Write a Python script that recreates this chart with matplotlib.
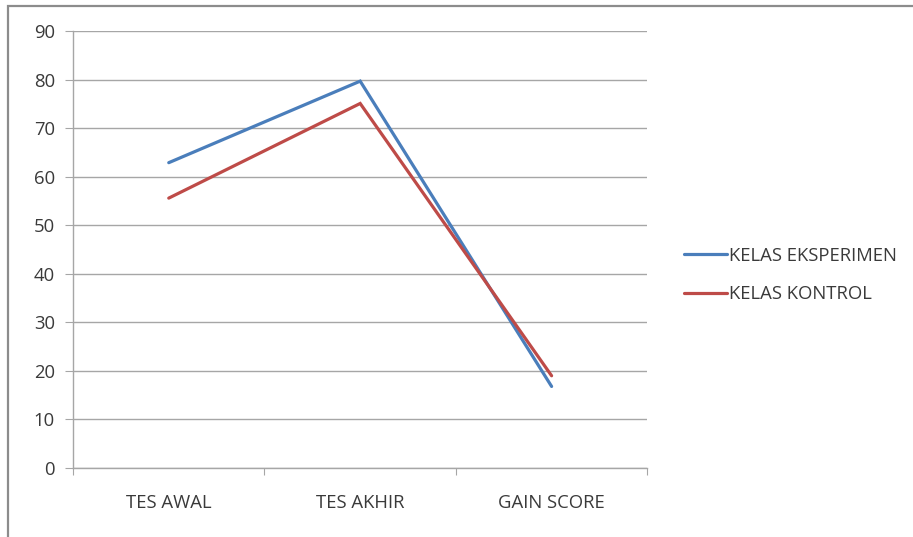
"""
Line chart: Tes Awal / Tes Akhir / Gain Score for two classes.
"""

import matplotlib.pyplot as plt
from matplotlib.patches import Rectangle

plt.rcParams["font.family"] = ["Open Sans", "DejaVu Sans"]

categories = ["TES AWAL", "TES AKHIR", "GAIN SCORE"]
eksperimen = [62.9, 79.7, 16.8]
kontrol = [55.6, 75.1, 19.0]
y_ticks = [0, 10, 20, 30, 40, 50, 60, 70, 80, 90]

GRID = "#a6a6a6"
TEXT = "#3a3a3a"
FS = 13.3

fig = plt.figure(figsize=(9.13, 5.37), dpi=100)
ax = fig.add_axes([0.080, 0.1285, 0.629, 0.8135])

# chart outer border (only left and top visible in the crop)
fig.patches.append(Rectangle((8 / 913, -0.2), 1.2, 1.2 - 6 / 537,
                             transform=fig.transFigure, fill=False,
                             edgecolor="#8c8c8c", linewidth=1.6))

x = range(len(categories))
ax.plot(x, eksperimen, color="#4a7ebb", linewidth=2.3, label="KELAS EKSPERIMEN",
        solid_capstyle="round", solid_joinstyle="miter", zorder=3)
ax.plot(x, kontrol, color="#be4b48", linewidth=2.3, label="KELAS KONTROL",
        solid_capstyle="round", solid_joinstyle="miter", zorder=3)

ax.set_xlim(-0.5, len(categories) - 0.5)
ax.set_ylim(0, 90)

ax.set_yticks(y_ticks)
ax.yaxis.grid(True, color=GRID, linewidth=1.0)
ax.set_axisbelow(True)
ax.tick_params(axis="y", direction="out", length=6, color=GRID, labelsize=FS,
               labelcolor=TEXT, pad=7)

ax.set_xticks([i - 0.5 for i in range(len(categories) + 1)])
ax.set_xticklabels([])
ax.set_xticks(list(x), minor=True)
ax.set_xticklabels(categories, minor=True)
ax.tick_params(axis="x", which="major", direction="out", length=5, color=GRID)
ax.tick_params(axis="x", which="minor", length=0, labelsize=FS,
               labelcolor=TEXT, pad=19)

for side in ["top", "right"]:
    ax.spines[side].set_visible(False)
for side in ["left", "bottom"]:
    ax.spines[side].set_color(GRID)
    ax.spines[side].set_linewidth(1.0)

leg = ax.legend(loc="center left", bbox_to_anchor=(1.035, 0.442), frameon=False,
                fontsize=FS, handlelength=2.3, handletextpad=0.15,
                labelspacing=1.12, labelcolor=TEXT)

fig.savefig("out.png", dpi=100)
